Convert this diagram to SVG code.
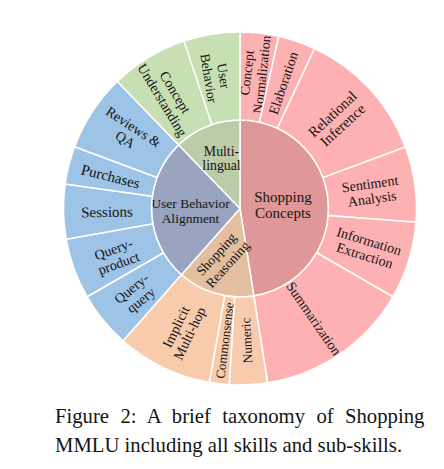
<svg xmlns="http://www.w3.org/2000/svg" width="444" height="469" viewBox="0 0 444 469">
<style>
.seg{stroke:#ffffff;stroke-width:1.5;stroke-linejoin:round}
.pk{fill:#feb1b2}.pki{fill:#e09797}
.gr{fill:#c6e0b4}.gri{fill:#bdcba9}
.bl{fill:#9dc3e6}.bli{fill:#98a4c0}
.or{fill:#f8cbad}.ori{fill:#e3bf9f}
text{font-family:"Liberation Serif","Times New Roman",serif;fill:#141414;text-anchor:middle}
.o{font-size:14px}
.cap{font-size:20.7px;text-anchor:start}
</style>
<rect width="444" height="469" fill="#ffffff"/>

<!-- inner ring -->
<g id="shopping-concepts">
<path class="seg pki" d="M240,208.5 L240,120 A88.5,88.5 0 0 1 253.84,295.91 Z"/>
<text style="font-size:15px"><tspan x="283" y="202">Shopping</tspan><tspan x="283" y="218">Concepts</tspan></text>
</g>
<g id="shopping-reasoning">
<path class="seg ori" d="M240,208.5 L253.84,295.91 A88.5,88.5 0 0 1 181.36,274.79 Z"/>
<g transform="translate(221.7,259) rotate(-48)"><text style="font-size:13.6px"><tspan x="0" y="-2.7">Shopping</tspan><tspan x="0" y="12.5">Reasoning</tspan></text></g>
</g>
<g id="user-behavior-alignment">
<path class="seg bli" d="M240,208.5 L181.36,274.79 A88.5,88.5 0 0 1 178.52,144.84 Z"/>
<text style="font-size:13.5px"><tspan x="190.5" y="208.3">User Behavior</tspan><tspan x="190.5" y="222.7">Alignment</tspan></text>
</g>
<g id="multi-lingual">
<path class="seg gri" d="M240,208.5 L178.52,144.84 A88.5,88.5 0 0 1 240,120 Z"/>
<text style="font-size:13.8px"><tspan x="221.5" y="155.6">Multi-</tspan><tspan x="221.5" y="170">lingual</tspan></text>
</g>

<!-- outer ring: Shopping Concepts -->
<g id="concept-normalization">
<path class="seg pk" d="M240,120 L240,32 A176.5,176.5 0 0 1 278.79,36.32 L259.45,122.17 A88.5,88.5 0 0 0 240,120 Z"/>
<g transform="translate(254,73.5) rotate(-83.6)"><text class="o" style="font-size:13.6px"><tspan x="0" y="-2.5">Concept</tspan><tspan x="0" y="12.5">Normalization</tspan></text></g>
</g>
<g id="elaboration">
<path class="seg pk" d="M259.45,122.17 L278.79,36.32 A176.5,176.5 0 0 1 314.59,48.54 L277.40,128.29 A88.5,88.5 0 0 0 259.45,122.17 Z"/>
<g transform="translate(283,83) rotate(-71.15)"><text class="o" y="5">Elaboration</text></g>
</g>
<g id="relational-inference">
<path class="seg pk" d="M277.40,128.29 L314.59,48.54 A176.5,176.5 0 0 1 405.43,146.97 L322.95,177.65 A88.5,88.5 0 0 0 277.40,128.29 Z"/>
<g transform="translate(337.5,119.5) rotate(-42.7)"><text class="o" style="font-size:14.6px"><tspan x="0" y="-2.5">Relational</tspan><tspan x="0" y="12.5">Inference</tspan></text></g>
</g>
<g id="sentiment-analysis">
<path class="seg pk" d="M322.95,177.65 L405.43,146.97 A176.5,176.5 0 0 1 415.95,222.36 L328.23,215.45 A88.5,88.5 0 0 0 322.95,177.65 Z"/>
<g transform="translate(371,191) rotate(-7.95)"><text class="o"><tspan x="0" y="-2.5">Sentiment</tspan><tspan x="0" y="12.5">Analysis</tspan></text></g>
</g>
<g id="information-extraction">
<path class="seg pk" d="M328.23,215.45 L415.95,222.36 A176.5,176.5 0 0 1 392.85,296.75 L316.64,252.75 A88.5,88.5 0 0 0 328.23,215.45 Z"/>
<g transform="translate(367,248) rotate(17.25)"><text class="o"><tspan x="0" y="-2.5">Information</tspan><tspan x="0" y="12.5">Extraction</tspan></text></g>
</g>
<g id="summarization">
<path class="seg pk" d="M316.64,252.75 L392.85,296.75 A176.5,176.5 0 0 1 267.60,382.83 L253.84,295.91 A88.5,88.5 0 0 0 316.64,252.75 Z"/>
<g transform="translate(314,318.5) rotate(55.5)"><text class="o" y="5">Summarization</text></g>
</g>

<!-- outer ring: Shopping Reasoning -->
<g id="numeric">
<path class="seg or" d="M253.84,295.91 L267.60,382.83 A176.5,176.5 0 0 1 229.23,384.66 L234.60,296.83 A88.5,88.5 0 0 0 253.84,295.91 Z"/>
<g transform="translate(246.5,340.5) rotate(-92.75)"><text class="o" style="font-size:13px" y="4.6">Numeric</text></g>
</g>
<g id="commonsense">
<path class="seg or" d="M234.60,296.83 L229.23,384.66 A176.5,176.5 0 0 1 209.36,382.32 L224.64,295.65 A88.5,88.5 0 0 0 234.60,296.83 Z"/>
<g transform="translate(224.5,340.5) rotate(-83.25)"><text class="o" style="font-size:13px" y="4.6">Commonsense</text></g>
</g>
<g id="implicit-multi-hop">
<path class="seg or" d="M224.64,295.65 L209.36,382.32 A176.5,176.5 0 0 1 123.05,340.70 L181.36,274.79 A88.5,88.5 0 0 0 224.64,295.65 Z"/>
<g transform="translate(182.5,330) rotate(-64.25)"><text class="o"><tspan x="0" y="-2.5">Implicit</tspan><tspan x="0" y="12.5">Multi-hop</tspan></text></g>
</g>

<!-- outer ring: User Behavior Alignment -->
<g id="query-query">
<path class="seg bl" d="M181.36,274.79 L123.05,340.70 A176.5,176.5 0 0 1 87.15,296.75 L163.36,252.75 A88.5,88.5 0 0 0 181.36,274.79 Z"/>
<g transform="translate(136,294) rotate(-39.25)"><text class="o"><tspan x="0" y="-2.5">Query-</tspan><tspan x="0" y="12.5">query</tspan></text></g>
</g>
<g id="query-product">
<path class="seg bl" d="M163.36,252.75 L87.15,296.75 A176.5,176.5 0 0 1 66.18,239.14 L152.85,223.86 A88.5,88.5 0 0 0 163.36,252.75 Z"/>
<g transform="translate(116,256) rotate(-20)"><text class="o"><tspan x="0" y="-2.5">Query-</tspan><tspan x="0" y="12.5">product</tspan></text></g>
</g>
<g id="sessions">
<path class="seg bl" d="M152.85,223.86 L66.18,239.14 A176.5,176.5 0 0 1 65.21,183.93 L152.36,196.18 A88.5,88.5 0 0 0 152.85,223.86 Z"/>
<g transform="translate(107,212) rotate(-1)"><text class="o" style="font-size:15px" y="5">Sessions</text></g>
</g>
<g id="purchases">
<path class="seg bl" d="M152.36,196.18 L65.21,183.93 A176.5,176.5 0 0 1 74.67,146.69 L157.10,177.51 A88.5,88.5 0 0 0 152.36,196.18 Z"/>
<g transform="translate(110.5,176.5) rotate(14.25)"><text class="o" style="font-size:15px" y="5">Purchases</text></g>
</g>
<g id="reviews-qa">
<path class="seg bl" d="M157.10,177.51 L74.67,146.69 A176.5,176.5 0 0 1 117.39,81.54 L178.52,144.84 A88.5,88.5 0 0 0 157.10,177.51 Z"/>
<g transform="translate(129.5,133) rotate(33.25)"><text class="o"><tspan x="0" y="-2.5">Reviews &amp;</tspan><tspan x="0" y="12.5">QA</tspan></text></g>
</g>

<!-- outer ring: Multi-lingual -->
<g id="concept-understanding">
<path class="seg gr" d="M178.52,144.84 L117.39,81.54 A176.5,176.5 0 0 1 184.00,41.12 L211.92,124.58 A88.5,88.5 0 0 0 178.52,144.84 Z"/>
<g transform="translate(169,96) rotate(58.75)"><text class="o"><tspan x="0" y="-2.5">Concept</tspan><tspan x="0" y="12.5">Understanding</tspan></text></g>
</g>
<g id="user-behavior">
<path class="seg gr" d="M211.92,124.58 L184.00,41.12 A176.5,176.5 0 0 1 240,32 L240,120 A88.5,88.5 0 0 0 211.92,124.58 Z"/>
<g transform="translate(216.5,77) rotate(80.75)"><text class="o" style="font-size:13.6px"><tspan x="0" y="-2.5">User</tspan><tspan x="0" y="12.5">Behavior</tspan></text></g>
</g>

<g id="caption">
<text class="cap" x="55" y="423.3" style="word-spacing:6.2px">Figure 2: A brief taxonomy of Shopping</text>
<text class="cap" x="55" y="452">MMLU including all skills and sub-skills.</text>
</g>
</svg>
